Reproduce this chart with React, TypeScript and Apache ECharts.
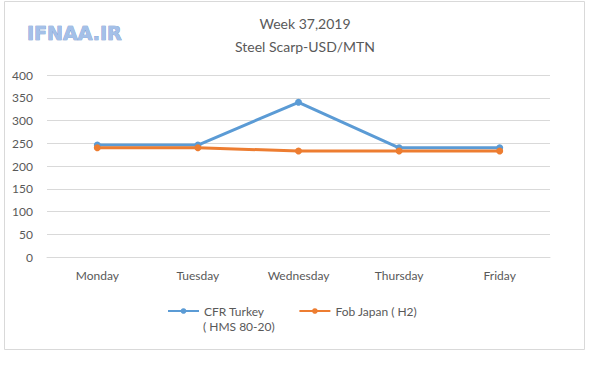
import React, { useEffect, useRef } from "react";
import * as echarts from "echarts";

const categories = ["Monday", "Tuesday", "Wednesday", "Thursday", "Friday"];
const cfrTurkey = [246, 246, 340, 240, 240];
const fobJapan = [240, 240, 233, 233, 233];
const yTicks = { min: 0, max: 400, interval: 50 };

export default function App() {
  const ref = useRef<HTMLDivElement>(null);
  useEffect(() => {
    if (!ref.current) return;
    const chart = echarts.init(ref.current, null, { renderer: "svg" });
    const font = "Lato, 'Open Sans', sans-serif";
    chart.setOption({
      animation: false,
      backgroundColor: "#ffffff",
      textStyle: { fontFamily: font },
      title: {
        text: "Week 37,2019\nSteel Scarp-USD/MTN",
        left: 300,
        textAlign: "center",
        top: 7,
        textStyle: { fontFamily: font, fontSize: 14, fontWeight: "normal", color: "#595959", lineHeight: 23 },
      },
      graphic: [
        {
          type: "rect",
          shape: { x: 4.5, y: 1.5, width: 580, height: 348 },
          style: { fill: "none", stroke: "#d9d9d9", lineWidth: 1 },
        },
        {
          type: "text",
          x: 27,
          y: 23,
          style: {
            text: "IFNAA.IR",
            fontFamily: "'DejaVu Sans', sans-serif",
            fontSize: 19,
            fontWeight: "bold",
            fill: "#a4c0e8",
            stroke: "#6a8fc8",
            lineWidth: 0.7,
          },
        },
        {
          type: "text",
          x: 203,
          y: 320,
          style: {
            text: "( HMS 80-20)",
            fontFamily: font,
            fontSize: 12,
            fill: "#595959",
            verticalAlign: "top",
          },
        },
      ],
      legend: {
        left: 162,
        top: 300,
        itemWidth: 31,
        itemHeight: 7,
        itemGap: 34,
        textStyle: { fontFamily: font, fontSize: 12, color: "#595959" },
        data: ["CFR Turkey", "Fob Japan ( H2)"],
      },
      grid: { left: 47, right: 50, top: 75, bottom: 109, containLabel: false },
      xAxis: {
        type: "category",
        data: categories,
        boundaryGap: true,
        axisLine: { show: true, lineStyle: { color: "#d9d9d9" } },
        axisTick: { show: false },
        axisLabel: { color: "#595959", fontSize: 12, fontFamily: font, margin: 12 },
      },
      yAxis: {
        type: "value",
        min: yTicks.min,
        max: yTicks.max,
        interval: yTicks.interval,
        axisLine: { show: false },
        axisTick: { show: false },
        axisLabel: { color: "#595959", fontSize: 12, fontFamily: font, margin: 14 },
        splitLine: { lineStyle: { color: "#d9d9d9" } },
      },
      series: [
        {
          name: "CFR Turkey",
          type: "line",
          data: cfrTurkey,
          symbol: "circle",
          symbolSize: 7,
          lineStyle: { width: 3, color: "#5b9bd5" },
          itemStyle: { color: "#5b9bd5" },
        },
        {
          name: "Fob Japan ( H2)",
          type: "line",
          data: fobJapan,
          symbol: "circle",
          symbolSize: 7,
          lineStyle: { width: 3, color: "#ed7d31" },
          itemStyle: { color: "#ed7d31" },
        },
      ],
    });
    return () => chart.dispose();
  }, []);
  return (
    <div
      ref={ref}
      style={{ position: "fixed", left: 0, top: 0, width: 600, height: 366 }}
    />
  );
}
